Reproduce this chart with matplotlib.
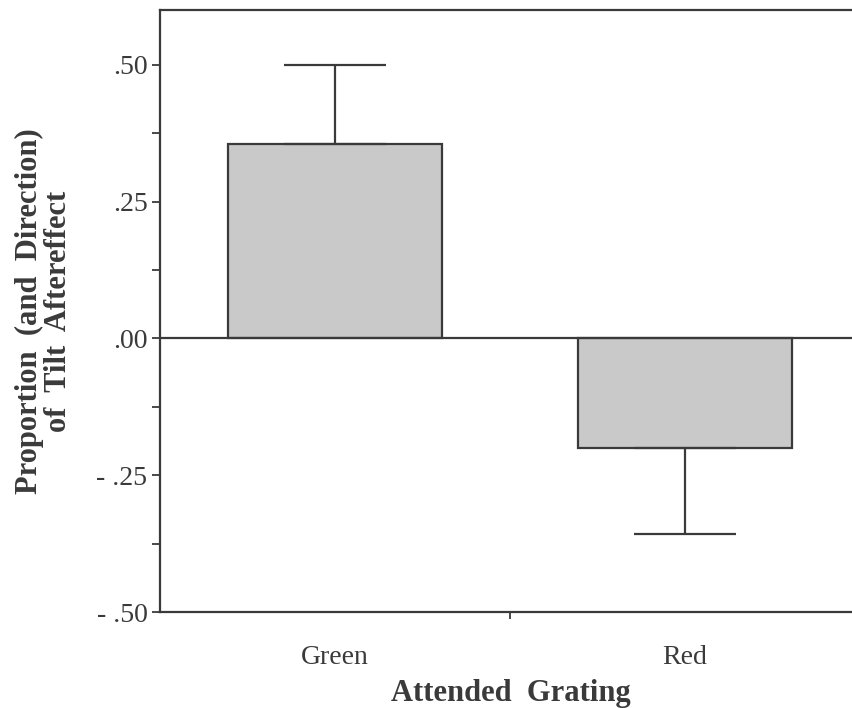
import matplotlib.pyplot as plt
from matplotlib.ticker import MultipleLocator, FixedLocator

# values
conditions = ['Green', 'Red']
means = [0.355, -0.20]
err_up = [0.145, 0.0]
err_down = [0.0, 0.157]
ytick_vals = [0.50, 0.25, 0.00, -0.25, -0.50]
ytick_labels = ['.50', '.25', '.00', '- .25', '- .50']

plt.rcParams['font.family'] = ['Liberation Serif', 'DejaVu Serif']
ink = '#3a3a3a'

fig = plt.figure(figsize=(8.53, 7.08), dpi=100)
ax = fig.add_axes([160 / 853, 96 / 708, 700 / 853, 602 / 708])

x = list(range(len(conditions)))
ax.bar(x, means, width=0.614, color='#c9c9c9', edgecolor=ink, linewidth=1.6,
       yerr=[err_down, err_up], capsize=37,
       error_kw=dict(ecolor=ink, elinewidth=1.6, capthick=1.6), zorder=3)
ax.axhline(0, color=ink, linewidth=1.6, zorder=4)

ax.set_xlim(-0.5, 1.5)
ax.set_ylim(-0.5, 0.6)
ax.set_xticks(x)
ax.set_xticklabels(conditions, fontsize=20, color=ink)
ax.xaxis.set_minor_locator(FixedLocator([0.5]))
ax.tick_params(axis='x', which='major', length=0, pad=24)
ax.tick_params(axis='x', which='minor', length=5, width=1.3, color=ink)

ax.set_yticks(ytick_vals)
ax.set_yticklabels(ytick_labels, fontsize=20, color=ink)
ax.yaxis.set_minor_locator(MultipleLocator(0.125))
ax.tick_params(axis='y', which='both', length=6, width=1.3, color=ink, pad=3)

for side in ['left', 'bottom', 'top']:
    ax.spines[side].set_color(ink)
    ax.spines[side].set_linewidth(1.6)
ax.spines['right'].set_visible(False)

ax.set_ylabel('Proportion  (and  Direction)\nof  Tilt  Aftereffect', fontsize=22,
              fontweight='bold', color=ink, labelpad=17, linespacing=1.0)
fig.text(511 / 853, 1 - 694 / 708, 'Attended  Grating', ha='center', va='center',
         fontsize=22, fontweight='bold', color=ink)

fig.savefig('out.png', dpi=100)
